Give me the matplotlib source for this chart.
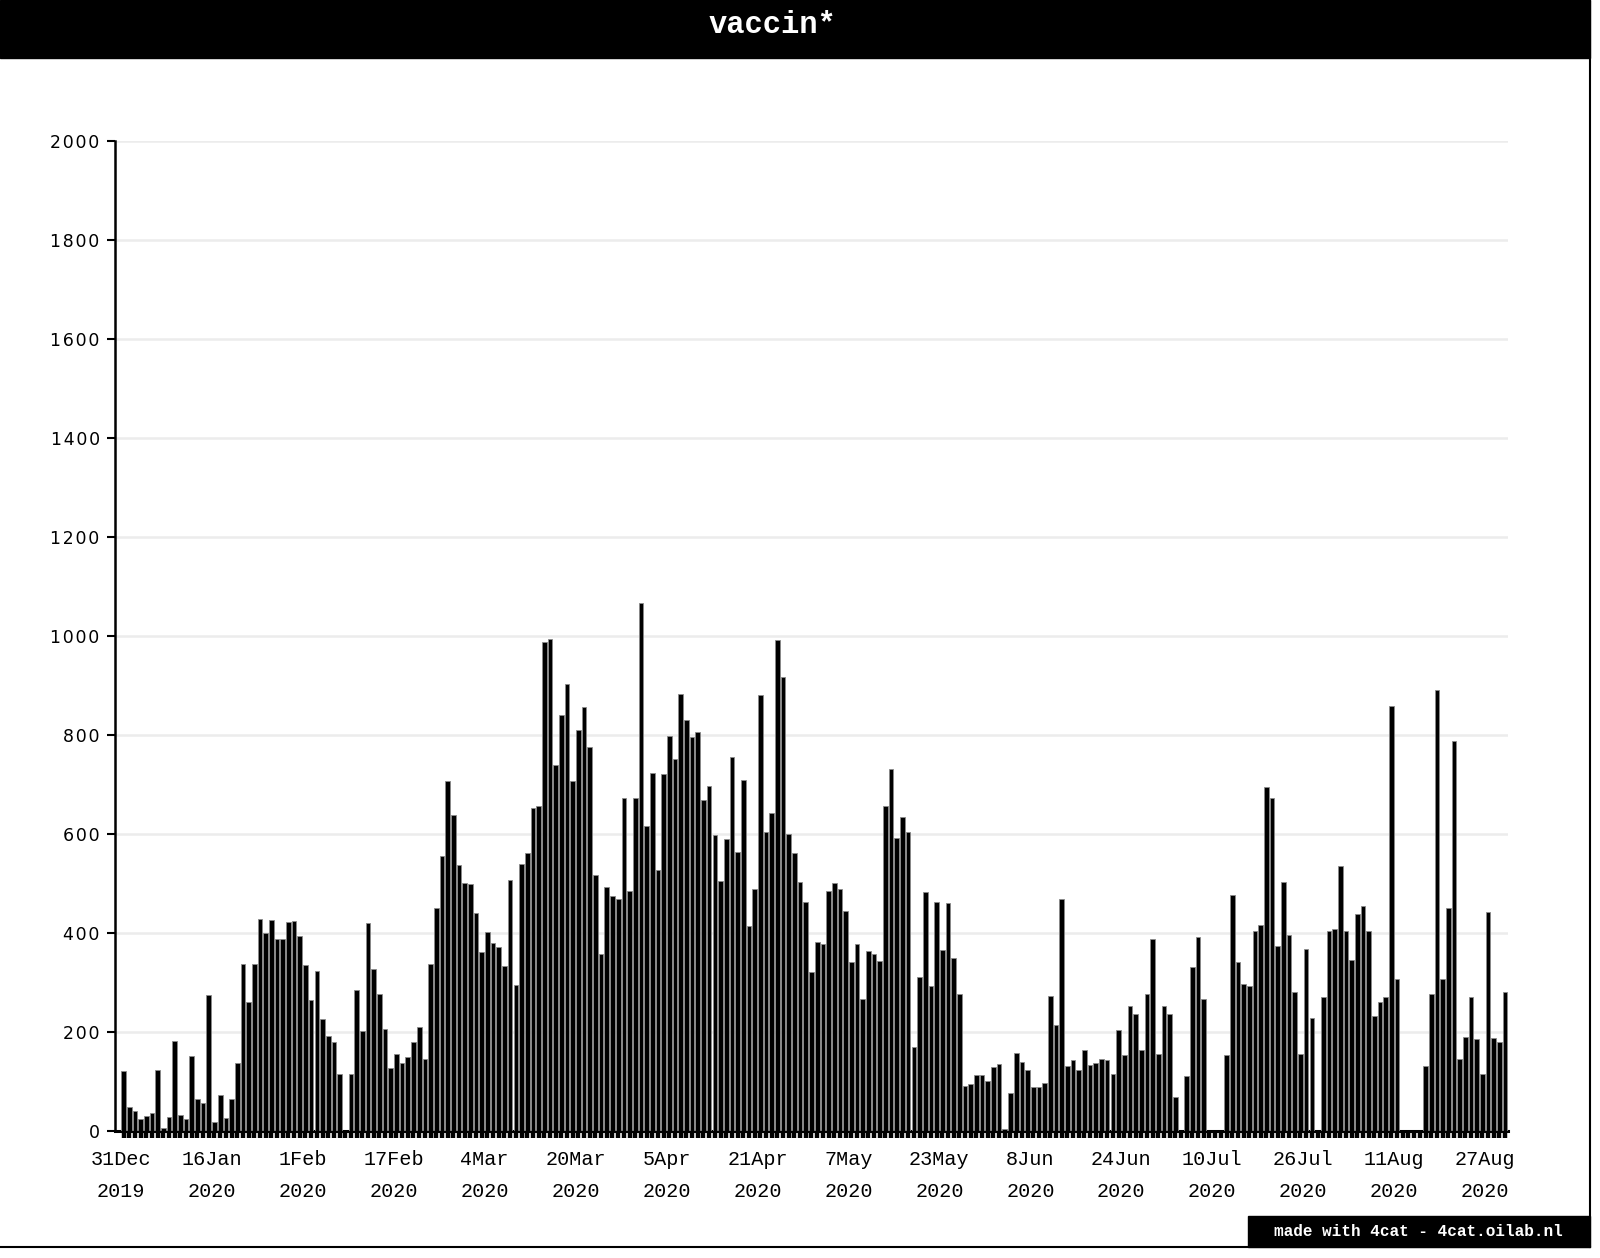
import datetime as dt

import matplotlib
matplotlib.use('Agg')
import matplotlib.pyplot as plt
import matplotlib.dates as mdates
from matplotlib.patches import Rectangle
from matplotlib.lines import Line2D

# daily counts, 31 Dec 2019 .. 30 Aug 2020
start = dt.date(2019, 12, 31)
counts = [
    121, 48, 40, 25, 30, 37, 123, 7, 29, 182, 32, 25, 151, 64, 57, 274, 18,
    73, 27, 65, 137, 337, 260, 337, 429, 401, 427, 387, 387, 422, 424, 393,
    335, 265,
    323, 227, 192, 179, 115, 0, 115, 284, 203, 421, 327, 276, 206, 127, 155,
    138, 150, 179, 210, 145, 337, 451, 555, 708, 639, 537, 502, 500, 441, 362,
    403, 379, 371,
    334, 508, 294, 540, 562, 653, 656, 987, 993, 739, 841, 904, 708, 811, 857,
    776, 518, 357, 493, 474, 469, 673, 485, 673, 1066, 617, 723, 527, 721, 798,
    752, 882, 830,
    796, 807, 668, 696, 597, 505, 590, 756, 564, 709, 415, 489, 880, 604, 643,
    991, 918, 599, 561, 503, 463, 321, 382, 377, 485, 502, 488, 444, 342, 377,
    266, 363, 358, 343,
    657, 732, 591, 635, 604, 170, 312, 482, 292, 463, 365, 461, 350, 277, 91,
    95, 113, 113, 101, 129, 135, 5, 76, 158, 139, 124, 88, 88, 96, 272, 215,
    468, 132,
    143, 124, 163, 134, 138, 146, 143, 116, 204, 154, 252, 237, 164, 277, 388,
    156, 253, 237, 69, 0, 111, 332, 392, 266, 0, 0, 0, 154, 476, 342, 296, 293,
    405, 417, 695, 672, 374, 504, 396, 281, 155, 368, 229, 0, 271, 404, 409,
    536, 405, 346, 438, 454, 404, 232, 260, 271, 859, 307,
    0, 0, 0, 0,
    132, 276, 890, 308, 450, 788, 145, 190, 270, 186, 116, 443, 187, 179, 280,
]
dates = [start + dt.timedelta(days=i) for i in range(len(counts))]
label_dates = dates[::16]
y_ticks = [0, 200, 400, 600, 800, 1000, 1200, 1400, 1600, 1800, 2000]
title = 'vaccin*'
credit = 'made with 4cat - 4cat.oilab.nl'

W, H = 1600, 1258
fig = plt.figure(figsize=(W / 100, H / 100), dpi=100)
fig.patch.set_facecolor('white')

# axes box in pixels: left 115, right 1508, top 141, bottom 1131
ax = fig.add_axes([115 / W, 1 - 1131 / H, (1508 - 115) / W, (1131 - 141) / H])

xnum = mdates.date2num(dates)
ax.bar(xnum + 0.5, counts, width=0.82, color='black', edgecolor='#8a8a8a',
       linewidth=0.6, zorder=3)

ax.set_ylim(0, 2000)
ax.set_xlim(xnum[0] - 1, xnum[-1] + 1)

# y labels are letter-spaced in the original, hair spaces fake that
ax.set_yticks(y_ticks)
ax.set_yticklabels(['\u200a'.join(str(v)) for v in y_ticks],
                   family='DejaVu Sans', fontsize=12.5)
ax.tick_params(axis='y', length=6, width=1.5, pad=5, colors='black')
ax.yaxis.grid(True, color='#ececec', linewidth=1.8, zorder=0)
ax.set_axisbelow(True)

# one short tick under every day, labels every 16 days
ax.set_xticks(mdates.date2num(label_dates))
ax.set_xticklabels([f'{d.day}{d.strftime("%b")}\n{d.year}' for d in label_dates],
                   family='Liberation Mono', fontsize=14.5, linespacing=1.85)
ax.tick_params(axis='x', which='major', length=0, pad=14)
ax.set_xticks(xnum + 0.5, minor=True)
ax.tick_params(axis='x', which='minor', length=5, width=3.2, color='black')

for side in ('top', 'right'):
    ax.spines[side].set_visible(False)
ax.spines['left'].set_linewidth(1.8)
ax.spines['bottom'].set_linewidth(2.2)

# title bar, footer badge and page frame
fig.add_artist(Rectangle((0, 1 - 58 / H), 1590 / W, 58 / H,
                         transform=fig.transFigure, color='black', zorder=5))
fig.text(772 / W, 1 - 25 / H, title, color='white', ha='center', va='center',
         family='Liberation Mono', fontweight='bold', fontsize=22, zorder=6)

fig.add_artist(Rectangle((1248 / W, 1 - 1247 / H), (1590 - 1248) / W, 31 / H,
                         transform=fig.transFigure, color='black', zorder=5))
fig.text(1418 / W, 1 - 1231 / H, credit, color='white', ha='center',
         va='center', family='Liberation Mono', fontweight='bold',
         fontsize=11.5, zorder=6)

fig.add_artist(Line2D([1590 / W, 1590 / W], [1, 1 - 1247 / H],
                      transform=fig.transFigure, color='black', linewidth=1.5))
fig.add_artist(Line2D([0, 1590 / W], [1 - 1247 / H, 1 - 1247 / H],
                      transform=fig.transFigure, color='black', linewidth=1.5))

fig.savefig('out.png', dpi=100)
